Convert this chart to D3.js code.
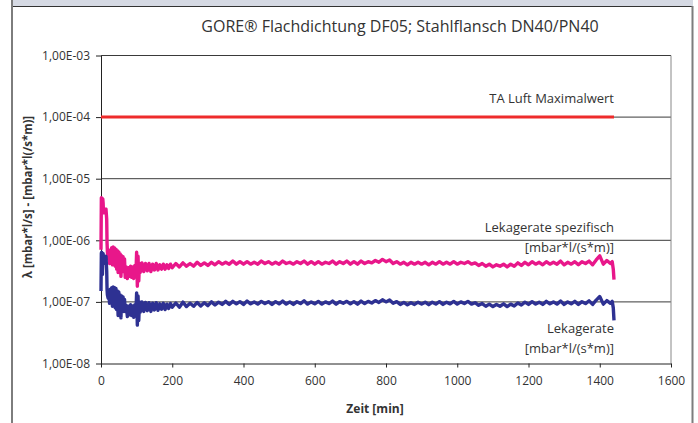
<!DOCTYPE html>
<html>
<head>
<meta charset="utf-8">
<script src="https://cdn.jsdelivr.net/npm/d3@7"></script>
<style>
  body { margin: 0; background: #fff; }
  text { font-family: "Open Sans", sans-serif; fill: #333; }
</style>
</head>
<body>
<div id="chart"></div>
<script>
// Zeit [min]
var times = [
  0, 1, 2, 3, 4, 5, 6, 7, 8, 10, 12, 14, 16, 17, 18,
  20, 22, 24, 26, 28, 30, 32, 34, 36, 38, 40, 42, 44, 46, 48, 50, 52, 54, 56, 58, 60, 62, 64, 66,
  68, 71, 74, 77, 80, 83, 86, 89, 92, 95, 98,
  100, 102, 104, 106, 108,
  110, 115, 120, 125, 130, 135, 140, 145, 150, 155, 160, 165, 170, 175, 180, 185, 190, 195,
  200, 210, 220, 230, 240, 250, 260, 270, 280, 290,
  300, 310, 320, 330, 340, 350, 360, 370, 380, 390,
  400, 410, 420, 430, 440, 450, 460, 470, 480, 490,
  500, 510, 520, 530, 540, 550, 560, 570, 580, 590,
  600, 610, 620, 630, 640, 650, 660, 670, 680, 690,
  700, 710, 720, 730, 740, 750, 760, 770, 780, 790,
  800, 810, 820, 830, 840, 850, 860, 870, 880, 890,
  900, 910, 920, 930, 940, 950, 960, 970, 980, 990,
  1000, 1010, 1020, 1030, 1040, 1050, 1060, 1070, 1080, 1090,
  1100, 1110, 1120, 1130, 1140, 1150, 1160, 1170, 1180, 1190,
  1200, 1210, 1220, 1230, 1240, 1250, 1260, 1270, 1280, 1290,
  1300, 1310, 1320, 1330, 1340, 1350, 1360, 1370, 1380, 1390,
  1400, 1410, 1420, 1430,
  1435, 1438, 1440
];

// Lekagerate [mbar*l/s]
var lekagerate = [
  1.5e-7, 6.2e-7, 6.4e-7, 5.2e-7, 2.8e-7, 5.8e-7, 6.1e-7, 4.2e-7, 5.6e-7, 5.4e-7, 4.8e-7, 5.5e-7, 3.2e-7, 1.6e-7, 1.3e-7,
  1.15e-7, 1.45e-7, 0.95e-7, 1.6e-7, 1.0e-7, 1.7e-7, 0.85e-7, 1.75e-7, 0.95e-7, 1.7e-7, 0.8e-7, 1.65e-7,
  0.75e-7, 1.5e-7, 0.6e-7, 1.45e-7, 0.7e-7, 1.3e-7, 0.55e-7, 1.25e-7, 0.75e-7, 1.2e-7, 0.7e-7, 1.1e-7,
  0.7e-7, 0.88e-7, 0.58e-7, 0.85e-7, 0.62e-7, 0.9e-7, 0.6e-7, 0.86e-7, 0.56e-7, 0.9e-7, 0.65e-7,
  1.4e-7, 0.42e-7, 1.25e-7, 0.5e-7, 1.0e-7,
  0.68e-7, 1.0e-7, 0.7e-7, 0.98e-7, 0.72e-7, 0.97e-7, 0.7e-7, 0.95e-7, 0.74e-7, 0.97e-7, 0.73e-7, 0.93e-7, 0.76e-7, 0.95e-7, 0.75e-7, 0.92e-7, 0.78e-7, 0.94e-7,
  0.82e-7, 0.96e-7, 0.82e-7, 0.99e-7, 0.84e-7, 0.95e-7, 0.85e-7, 0.98e-7, 0.86e-7, 0.97e-7,
  0.87e-7, 1.00e-7, 0.89e-7, 0.99e-7, 0.91e-7, 1.02e-7, 0.91e-7, 1.02e-7, 0.93e-7, 1.01e-7,
  0.91e-7, 1.03e-7, 0.93e-7, 1.00e-7, 0.92e-7, 1.02e-7, 0.94e-7, 1.01e-7, 0.91e-7, 1.01e-7,
  0.93e-7, 1.03e-7, 0.92e-7, 1.00e-7, 0.91e-7, 1.01e-7, 0.94e-7, 1.04e-7, 0.92e-7, 1.00e-7,
  0.93e-7, 1.02e-7, 0.92e-7, 1.00e-7, 0.94e-7, 1.03e-7, 0.92e-7, 1.01e-7, 0.95e-7, 1.02e-7,
  0.93e-7, 1.01e-7, 0.92e-7, 1.03e-7, 0.94e-7, 1.02e-7, 0.96e-7, 1.05e-7, 0.98e-7, 1.08e-7,
  1.00e-7, 1.07e-7, 0.95e-7, 1.01e-7, 0.91e-7, 0.98e-7, 0.90e-7, 0.97e-7, 0.91e-7, 0.99e-7,
  0.92e-7, 0.99e-7, 0.90e-7, 0.99e-7, 0.92e-7, 1.01e-7, 0.91e-7, 0.99e-7, 0.93e-7, 1.02e-7,
  0.92e-7, 1.00e-7, 0.94e-7, 1.02e-7, 0.92e-7, 0.97e-7, 0.88e-7, 0.94e-7, 0.85e-7, 0.92e-7,
  0.84e-7, 0.91e-7, 0.85e-7, 0.93e-7, 0.84e-7, 0.92e-7, 0.86e-7, 0.96e-7, 0.89e-7, 0.99e-7,
  0.91e-7, 1.01e-7, 0.92e-7, 0.99e-7, 0.91e-7, 1.02e-7, 0.93e-7, 1.00e-7, 0.92e-7, 1.03e-7,
  0.91e-7, 1.00e-7, 0.93e-7, 1.02e-7, 0.91e-7, 1.01e-7, 0.94e-7, 1.04e-7, 0.91e-7, 1.07e-7,
  1.22e-7, 0.92e-7, 1.05e-7, 0.95e-7,
  1.02e-7, 0.8e-7, 0.5e-7
];

// Lekagerate spezifisch [mbar*l/(s*m)]
var spezifisch = [
  7.0e-7, 49e-7, 46e-7, 48e-7, 44e-7, 47e-7, 40e-7, 28e-7, 33e-7, 31e-7, 30e-7, 32e-7, 22e-7, 9e-7, 6.5e-7,
  5.0e-7, 6.6e-7, 4.2e-7, 7.0e-7, 4.5e-7, 7.6e-7, 4.0e-7, 7.8e-7, 4.3e-7, 7.5e-7, 3.8e-7, 7.2e-7,
  3.4e-7, 6.8e-7, 3.0e-7, 6.5e-7, 3.2e-7, 6.0e-7, 2.6e-7, 5.6e-7, 3.3e-7, 5.4e-7, 3.1e-7, 5.0e-7,
  2.5e-7, 3.7e-7, 2.4e-7, 3.6e-7, 2.6e-7, 3.8e-7, 2.5e-7, 3.7e-7, 2.4e-7, 3.9e-7, 2.8e-7,
  6.4e-7, 1.8e-7, 5.5e-7, 2.2e-7, 4.2e-7,
  3.0e-7, 4.3e-7, 3.1e-7, 4.2e-7, 3.2e-7, 4.2e-7, 3.1e-7, 4.1e-7, 3.3e-7, 4.2e-7, 3.3e-7, 4.0e-7, 3.4e-7, 4.1e-7, 3.4e-7, 4.0e-7, 3.5e-7, 4.1e-7,
  3.6e-7, 4.2e-7, 3.7e-7, 4.3e-7, 3.8e-7, 4.2e-7, 3.8e-7, 4.4e-7, 3.9e-7, 4.3e-7,
  3.9e-7, 4.4e-7, 4.0e-7, 4.5e-7, 4.1e-7, 4.4e-7, 4.1e-7, 4.6e-7, 4.1e-7, 4.5e-7,
  4.1e-7, 4.5e-7, 4.1e-7, 4.4e-7, 4.1e-7, 4.6e-7, 4.2e-7, 4.5e-7, 4.1e-7, 4.4e-7,
  4.1e-7, 4.6e-7, 4.2e-7, 4.4e-7, 4.1e-7, 4.5e-7, 4.2e-7, 4.6e-7, 4.1e-7, 4.5e-7,
  4.1e-7, 4.5e-7, 4.1e-7, 4.4e-7, 4.2e-7, 4.6e-7, 4.1e-7, 4.5e-7, 4.2e-7, 4.6e-7,
  4.1e-7, 4.5e-7, 4.1e-7, 4.6e-7, 4.2e-7, 4.5e-7, 4.3e-7, 4.7e-7, 4.4e-7, 4.9e-7,
  4.5e-7, 4.8e-7, 4.2e-7, 4.5e-7, 4.1e-7, 4.4e-7, 4.0e-7, 4.4e-7, 4.1e-7, 4.4e-7,
  4.1e-7, 4.4e-7, 4.0e-7, 4.4e-7, 4.1e-7, 4.5e-7, 4.1e-7, 4.4e-7, 4.1e-7, 4.5e-7,
  4.1e-7, 4.4e-7, 4.2e-7, 4.5e-7, 4.1e-7, 4.3e-7, 3.9e-7, 4.2e-7, 3.8e-7, 4.1e-7,
  3.7e-7, 4.0e-7, 3.8e-7, 4.1e-7, 3.7e-7, 4.1e-7, 3.8e-7, 4.3e-7, 3.9e-7, 4.4e-7,
  4.0e-7, 4.5e-7, 4.1e-7, 4.4e-7, 4.0e-7, 4.5e-7, 4.1e-7, 4.4e-7, 4.1e-7, 4.6e-7,
  4.0e-7, 4.4e-7, 4.1e-7, 4.5e-7, 4.0e-7, 4.5e-7, 4.2e-7, 4.6e-7, 4.0e-7, 4.8e-7,
  5.6e-7, 4.1e-7, 4.7e-7, 4.2e-7,
  4.5e-7, 3.4e-7, 2.3e-7
];

// TA Luft Maximalwert
var taLuftTimes = [0, 1440];
var taLuftValues = [1e-4, 1e-4];

var xTicks = [0, 200, 400, 600, 800, 1000, 1200, 1400, 1600];
var yTicks = [1e-8, 1e-7, 1e-6, 1e-5, 1e-4, 1e-3];
var yTickLabels = ["1,00E-08", "1,00E-07", "1,00E-06", "1,00E-05", "1,00E-04", "1,00E-03"];

var W = 698, H = 423;
var margin = {top: 55.5, right: 27, bottom: 59.5, left: 101},
    width = W - margin.left - margin.right,
    height = H - margin.top - margin.bottom;

var svg = d3.select("#chart")
  .append("svg")
    .attr("width", W)
    .attr("height", H);

// outer frame
svg.append("rect").attr("x", 11).attr("y", 0).attr("width", 682).attr("height", 6.5).attr("fill", "#d6dae4");
svg.append("line").attr("x1", 11).attr("x2", 693).attr("y1", 6.5).attr("y2", 6.5).attr("stroke", "#333");
svg.append("line").attr("x1", 12).attr("x2", 12).attr("y1", 0).attr("y2", H).attr("stroke", "#7d7d7d").attr("stroke-width", 2);
svg.append("line").attr("x1", 692.5).attr("x2", 692.5).attr("y1", 6).attr("y2", H).attr("stroke", "#7d7d7d").attr("stroke-width", 2);

svg.append("text")
  .attr("x", 400).attr("y", 32)
  .attr("text-anchor", "middle")
  .style("font-size", "16px")
  .text("GORE® Flachdichtung DF05; Stahlflansch DN40/PN40");

var g = svg.append("g")
  .attr("transform", "translate(" + margin.left + "," + margin.top + ")");

var x = d3.scaleLinear().domain([0, 1600]).range([0, width]);
var y = d3.scaleLog().domain([1e-8, 1e-3]).range([height, 0]);

// grid lines
g.selectAll(".grid")
  .data(yTicks.slice(1))
  .enter().append("line")
    .attr("x1", 0).attr("x2", width)
    .attr("y1", function(d) { return y(d); })
    .attr("y2", function(d) { return y(d); })
    .attr("stroke", "#3a3a3a")
    .attr("stroke-width", 1);

g.append("line")
  .attr("x1", width).attr("x2", width)
  .attr("y1", 0).attr("y2", height)
  .attr("stroke", "#888");

var xAxis = d3.axisBottom(x).tickValues(xTicks).tickSize(4).tickPadding(9).tickSizeOuter(0)
  .tickFormat(d3.format("d"));
var yAxis = d3.axisLeft(y).tickValues(yTicks).tickSize(5).tickPadding(6).tickSizeOuter(0)
  .tickFormat(function(d, i) { return yTickLabels[i]; });

var gx = g.append("g").attr("transform", "translate(0," + height + ")").call(xAxis);
var gy = g.append("g").call(yAxis);
[gx, gy].forEach(function(a) {
  a.select(".domain").attr("stroke", "#222");
  a.selectAll(".tick line").attr("stroke", "#222");
  a.selectAll(".tick text").style("font-size", "12px").style("font-family", "Open Sans, sans-serif").attr("fill", "#333");
});

var line = d3.line()
  .x(function(d) { return x(d.t); })
  .y(function(d) { return y(d.v); });

var blueData = times.map(function(t, i) { return {t: t, v: lekagerate[i]}; });
var pinkData = times.map(function(t, i) { return {t: t, v: spezifisch[i]}; });
var redData = taLuftTimes.map(function(t, i) { return {t: t, v: taLuftValues[i]}; });

g.append("path").datum(pinkData)
  .attr("d", line).attr("fill", "none")
  .attr("stroke", "#e8178a").attr("stroke-width", 3.4).attr("stroke-linejoin", "round");
g.append("path").datum(blueData)
  .attr("d", line).attr("fill", "none")
  .attr("stroke", "#2e3192").attr("stroke-width", 3.4).attr("stroke-linejoin", "round");
g.append("path").datum(redData)
  .attr("d", line).attr("fill", "none")
  .attr("stroke", "#ee2b2b").attr("stroke-width", 3);

// series labels
var labels = [
  {text: "TA Luft Maximalwert", y: 103},
  {text: "Lekagerate spezifisch", y: 232},
  {text: "[mbar*l/(s*m)]", y: 252},
  {text: "Lekagerate", y: 333},
  {text: "[mbar*l/(s*m)]", y: 353}
];
svg.selectAll(".lbl")
  .data(labels)
  .enter().append("text")
    .attr("x", 614).attr("y", function(d) { return d.y; })
    .attr("text-anchor", "end")
    .style("font-size", "13px")
    .text(function(d) { return d.text; });

svg.append("text")
  .attr("x", 375).attr("y", 413)
  .attr("text-anchor", "middle")
  .style("font-size", "12px").style("font-weight", "bold")
  .text("Zeit [min]");

svg.append("text")
  .attr("transform", "translate(32,197) rotate(-90)")
  .attr("text-anchor", "middle")
  .style("font-size", "11.5px").style("font-weight", "bold")
  .text("λ [mbar*l/s] - [mbar*l(/s*m)]");
</script>
</body>
</html>
